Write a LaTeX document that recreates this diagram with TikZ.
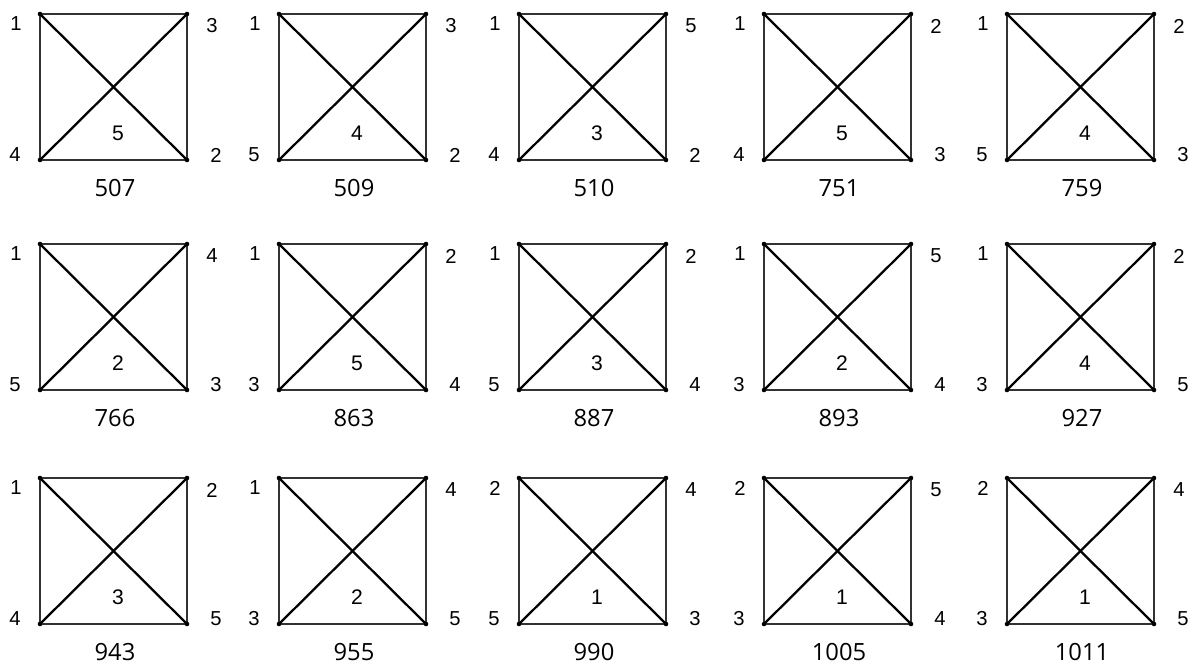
\documentclass[tikz,border=0pt]{standalone}
\usepackage{fontspec}
\setmainfont{Open Sans}
\newfontfamily\labelfont{Liberation Sans}
\usepackage{tikz}
\definecolor{edgegray}{RGB}{50,50,50}

\begin{document}
\begin{tikzpicture}[x=0.02cm,y=-0.02cm,
    border/.style={draw=edgegray,line width=1.6pt,dash pattern=on 0.2pt off 0.1pt},
    diag/.style={draw=black,line width=1.3pt},
    corner/.style={inner sep=0pt,font=\labelfont\fontsize{11.5}{13}\selectfont},
    mid/.style={inner sep=0pt,font=\labelfont\fontsize{12}{14}\selectfont},
    caption/.style={inner sep=0pt,font=\fontsize{13.5}{15}\selectfont}]
  \useasboundingbox (0,0) rectangle (1192,666);
  % one panel: left, top, corner labels (tl,tr,bl,br), centre label, number
  \foreach \px/\py/\tl/\tr/\bl/\br/\c/\n [count=\i] in {
      40/14/1/3/4/2/5/507,     279/14/1/3/5/2/4/509,     519/14/1/5/4/2/3/510,
      764/14/1/2/4/3/5/751,    1007/14/1/2/5/3/4/759,
      40/244/1/4/5/3/2/766,    279/244/1/2/3/4/5/863,    519/244/1/2/5/4/3/887,
      764/244/1/5/3/4/2/893,   1007/244/1/2/3/5/4/927,
      40/478/1/2/4/5/3/943,    279/478/1/4/3/5/2/955,    519/478/2/4/5/3/1/990,
      764/478/2/5/3/4/1/1005,  1007/478/2/4/3/5/1/1011}
  {
    \coordinate (tl\i) at (\px,\py);
    \coordinate (tr\i) at (\px+147,\py);
    \coordinate (bl\i) at (\px,\py+146);
    \coordinate (br\i) at (\px+147,\py+146);
    \draw[border] (tl\i) -- (tr\i) -- (br\i) -- (bl\i) -- cycle;
    \draw[diag] (tl\i) -- (br\i);
    \draw[diag] (bl\i) -- (tr\i);
    \foreach \k in {tl,tr,bl,br}
      \fill (\k\i) circle (1.3pt);
    \node[corner] (ntl\i) at (\px-24,\py+10) {\tl};
    \node[corner] (ntr\i) at (\px+172,\py+12) {\tr};
    \node[corner] (nbl\i) at (\px-25,\py+141) {\bl};
    \node[corner] (nbr\i) at (\px+176,\py+141) {\br};
    \node[mid] (c\i) at (\px+78,\py+119) {\c};
    \node[caption] (num\i) at (\px+75,\py+174) {\n};
  }
\end{tikzpicture}
\end{document}
